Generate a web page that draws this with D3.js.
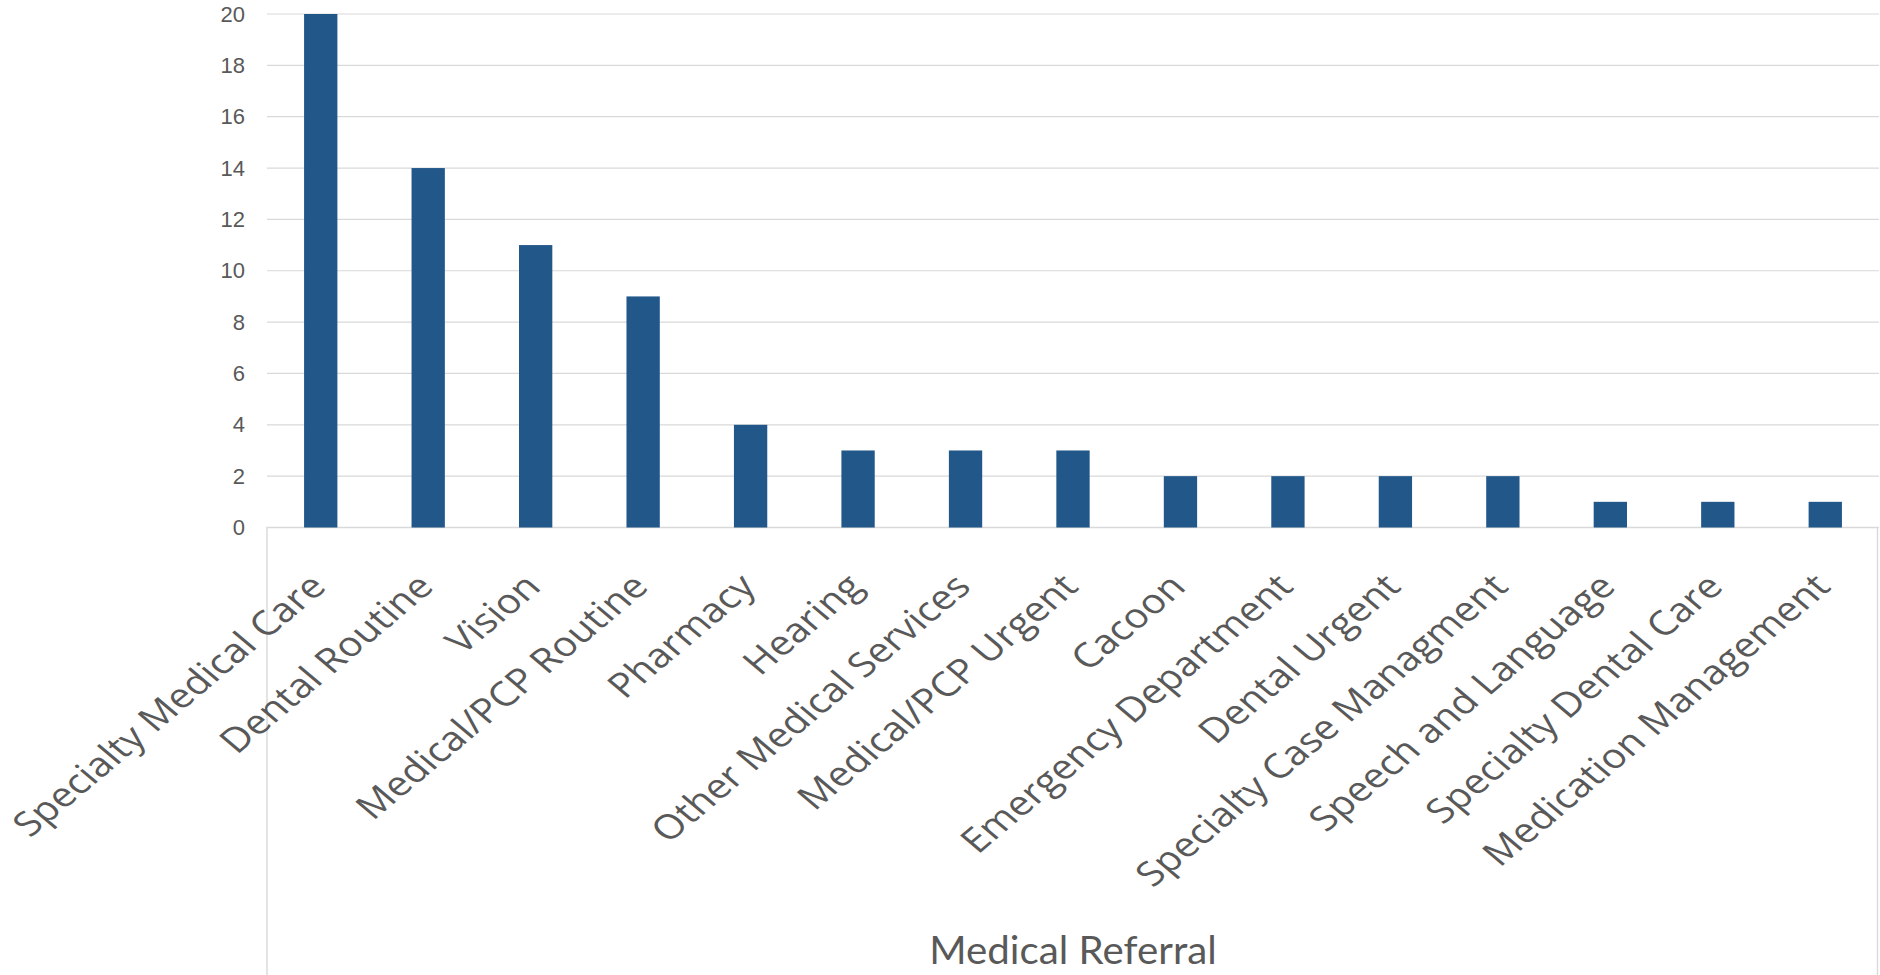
<!DOCTYPE html>
<html>
<head>
<meta charset="utf-8">
<script src="https://cdn.jsdelivr.net/npm/d3@7"></script>
<style>
  html, body { margin: 0; padding: 0; background: #ffffff; }
  svg { display: block; }
</style>
</head>
<body>
<svg id="chart" width="1880" height="975"></svg>
<script>
// Referral counts by type
const categories = [
  "Specialty Medical Care", "Dental Routine", "Vision", "Medical/PCP Routine",
  "Pharmacy", "Hearing", "Other Medical Services", "Medical/PCP Urgent",
  "Cacoon", "Emergency Department", "Dental Urgent", "Specialty Case Managment",
  "Speech and Language", "Specialty Dental Care", "Medication Management"
];
const values = [20, 14, 11, 9, 4, 3, 3, 3, 2, 2, 2, 2, 1, 1, 1];
const yTicks = [0, 2, 4, 6, 8, 10, 12, 14, 16, 18, 20];
const axisTitle = "Medical Referral";

const W = 1880, H = 975;
const plot = { left: 267, right: 1879, top: 14, bottom: 527.5 };
const gridColor = "#d9d9d9";
const textColor = "#595959";
const barColor = "#22578a";

const svg = d3.select("#chart");

const x = d3.scaleBand().domain(categories).range([plot.left, plot.right]).padding(0);
const y = d3.scaleLinear().domain([0, 20]).range([plot.bottom, plot.top]);
const barW = x.step() * 0.31;

// horizontal gridlines
svg.append("g")
  .selectAll("line")
  .data(yTicks)
  .join("line")
  .attr("x1", plot.left).attr("x2", plot.right)
  .attr("y1", d => y(d)).attr("y2", d => y(d))
  .attr("stroke", gridColor).attr("stroke-width", 1.2);

// category-axis frame below the baseline
svg.append("path")
  .attr("d", `M${plot.left},${H + 5} V${plot.bottom} H${plot.right - 1.5} V${H + 5}`)
  .attr("fill", "none").attr("stroke", gridColor).attr("stroke-width", 1.4);

// value axis labels
const yAxis = d3.axisLeft(y).tickValues(yTicks).tickSize(0).tickPadding(22);
const yg = svg.append("g").attr("transform", `translate(${plot.left},0)`).call(yAxis);
yg.select(".domain").remove();
yg.selectAll("text")
  .attr("fill", textColor)
  .style("font-family", "'Liberation Sans', Arial, sans-serif")
  .style("font-size", "22px");

// bars
svg.append("g")
  .selectAll("rect")
  .data(values)
  .join("rect")
  .attr("x", (d, i) => x(categories[i]) + x.bandwidth() / 2 - barW / 2)
  .attr("width", barW)
  .attr("y", d => y(d))
  .attr("height", d => y(0) - y(d))
  .attr("fill", barColor);

// slanted category labels (stretched horizontally, as laid out in the sheet)
svg.append("g")
  .selectAll("text")
  .data(categories)
  .join("text")
  .attr("transform", d => `translate(${x(d) + x.bandwidth() / 2 + 7},${plot.bottom + 61}) scale(1.19,1) rotate(-45)`)
  .attr("text-anchor", "end")
  .attr("fill", textColor)
  .style("font-family", "'Open Sans', sans-serif")
  .style("font-size", "34px")
  .text(d => d);

// axis title
svg.append("text")
  .attr("transform", `translate(${(plot.left + plot.right) / 2},964) scale(1.06,1)`)
  .attr("text-anchor", "middle")
  .attr("fill", textColor)
  .style("font-family", "Lato, 'Open Sans', sans-serif")
  .style("font-size", "38px")
  .text(axisTitle);
</script>
</body>
</html>
